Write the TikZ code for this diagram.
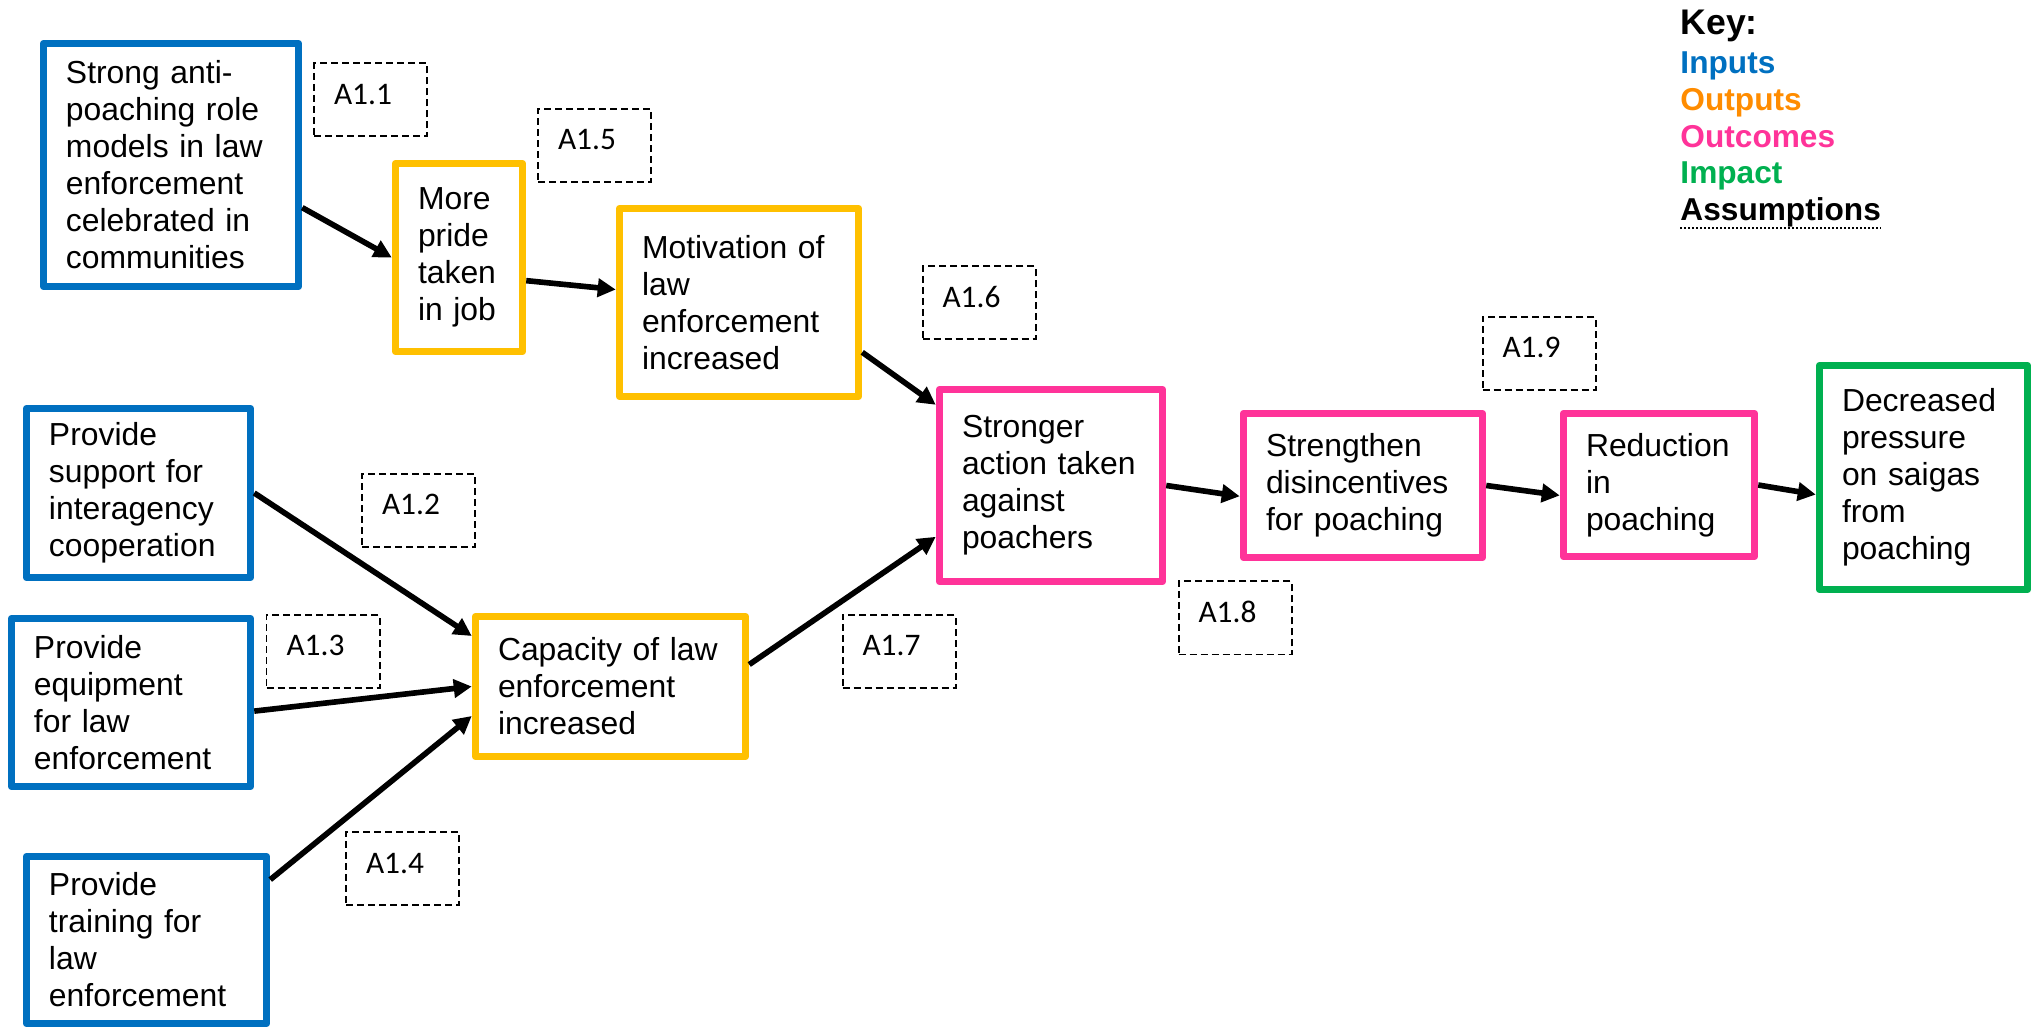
\documentclass[tikz,border=0pt]{standalone}
\usepackage{fontspec}
\setmainfont{Liberation Sans}
\newfontfamily\asmfont{Carlito}
\usetikzlibrary{arrows.meta}
\definecolor{inblue}{RGB}{0,112,192}
\definecolor{outgold}{RGB}{255,192,0}
\definecolor{keyorange}{RGB}{255,140,0}
\definecolor{ocpink}{RGB}{255,51,153}
\definecolor{impgreen}{RGB}{0,176,80}
\tikzset{
    box/.style={draw, line width=3.2pt, line join=round, fill=white, align=left,
        inner xsep=0.3375cm, inner ysep=0pt, font=\fontsize{13.6pt}{15.8pt}\selectfont},
    inbox/.style={box, draw=inblue},
    outbox/.style={box, draw=outgold},
    ocbox/.style={box, draw=ocpink},
    impbox/.style={box, draw=impgreen},
    asm/.style={draw, dash pattern=on 3pt off 1.7pt, line width=0.85pt, inner sep=0pt,
        inner xsep=0.3cm, text width=1.095cm, text height=0.615cm, text depth=0.48cm,
        align=left, font=\asmfont\fontsize{13.4pt}{16pt}\selectfont},
    arr/.style={line width=2.4pt, -{Triangle[length=0.27cm,width=0.27cm]}},
    keytxt/.style={anchor=base west, inner sep=0pt, font=\bfseries\fontsize{13.5pt}{16pt}\selectfont}
}
\begin{document}
\begin{tikzpicture}[x=0.015cm,y=-0.015cm]
        \useasboundingbox (0,0) rectangle (2033,1028);
        \node[inbox, text width=3.15cm, minimum height=3.645cm] (roles) at (171,165) {Strong anti-\\poaching role\\models in law\\enforcement\\celebrated in\\communities};
        \node[outbox, text width=1.23cm, minimum height=2.82cm] (pride) at (459,257.5) {More\\pride\\taken\\in job};
        \node[outbox, text width=2.91cm, minimum height=2.82cm] (motiv) at (739,302.5) {Motivation of\\law\\enforcement\\increased};
        \node[ocbox, text width=2.67cm, minimum height=2.88cm] (action) at (1051,485.5) {Stronger\\action taken\\against\\poachers};
        \node[ocbox, text width=2.91cm, minimum height=2.16cm] (disinc) at (1363,485.5) {Strengthen\\disincentives\\for poaching};
        \node[ocbox, text width=2.19cm, minimum height=2.145cm] (reduce) at (1659,485) {Reduction\\in\\poaching};
        \node[impbox, text width=2.445cm, minimum height=3.36cm] (saiga) at (1923.5,477.5) {Decreased\\pressure\\on saigas\\from\\poaching};
        \node[inbox, text width=2.685cm, minimum height=2.535cm] (support) at (138.5,493) {Provide\\support for\\interagency\\cooperation};
        \node[inbox, text width=2.91cm, minimum height=2.52cm] (equip) at (131,702.5) {Provide\\equipment\\for law\\enforcement};
        \node[inbox, text width=2.925cm, minimum height=2.505cm] (train) at (146.5,940) {Provide\\training for\\law\\enforcement};
        \node[outbox, text width=3.375cm, minimum height=2.1cm] (capac) at (610.5,686.5) {Capacity of law\\enforcement\\increased};

        \node[asm] (a11) at (370.5,100) {A1.1};
        \node[asm] (a12) at (418.5,510.5) {A1.2};
        \node[asm] (a13) at (323,651.5) {A1.3};
        \node[asm] (a14) at (402.5,868.5) {A1.4};
        \node[asm] (a15) at (594.5,145.5) {A1.5};
        \node[asm] (a16) at (979,303) {A1.6};
        \node[asm] (a17) at (899,651.5) {A1.7};
        \node[asm] (a18) at (1235,618) {A1.8};
        \node[asm] (a19) at (1539,353.5) {A1.9};

        \draw[arr] (roles.-18.6) -- (pride.west);
        \draw[arr] (pride.-19.5) -- (motiv.174);
        \draw[arr] (motiv.-22.9) -- (action.145.9);
        \draw[arr] (support.east) -- (capac.160.2);
        \draw[arr] (equip.-4.5) -- (capac.west);
        \draw[arr] (train.26.6) -- (capac.192.3);
        \draw[arr] (capac.9.5) -- (action.204.4);
        \draw[arr] (action.east) -- (disinc.185.5);
        \draw[arr] (disinc.east) -- (reduce.186);
        \draw[arr] (reduce.east) -- (saiga.189.6);

        \node[keytxt, font=\bfseries\fontsize{15.2pt}{18pt}\selectfont] (keyhead) at (1680,35) {Key:};
        \node[keytxt, text=inblue] (keyin) at (1680,74) {Inputs};
        \node[keytxt, text=keyorange] (keyout) at (1680,110.7) {Outputs};
        \node[keytxt, text=ocpink] (keyoc) at (1680,147.3) {Outcomes};
        \node[keytxt, text=impgreen] (keyimp) at (1680,184) {Impact};
        \node[keytxt] (keyasm) at (1680,221) {Assumptions};
        \draw[line width=0.9pt, dash pattern=on 0.03cm off 0.03cm] ([yshift=-0.1cm]keyasm.base west) -- ([yshift=-0.1cm]keyasm.base east);
\end{tikzpicture}
\end{document}
